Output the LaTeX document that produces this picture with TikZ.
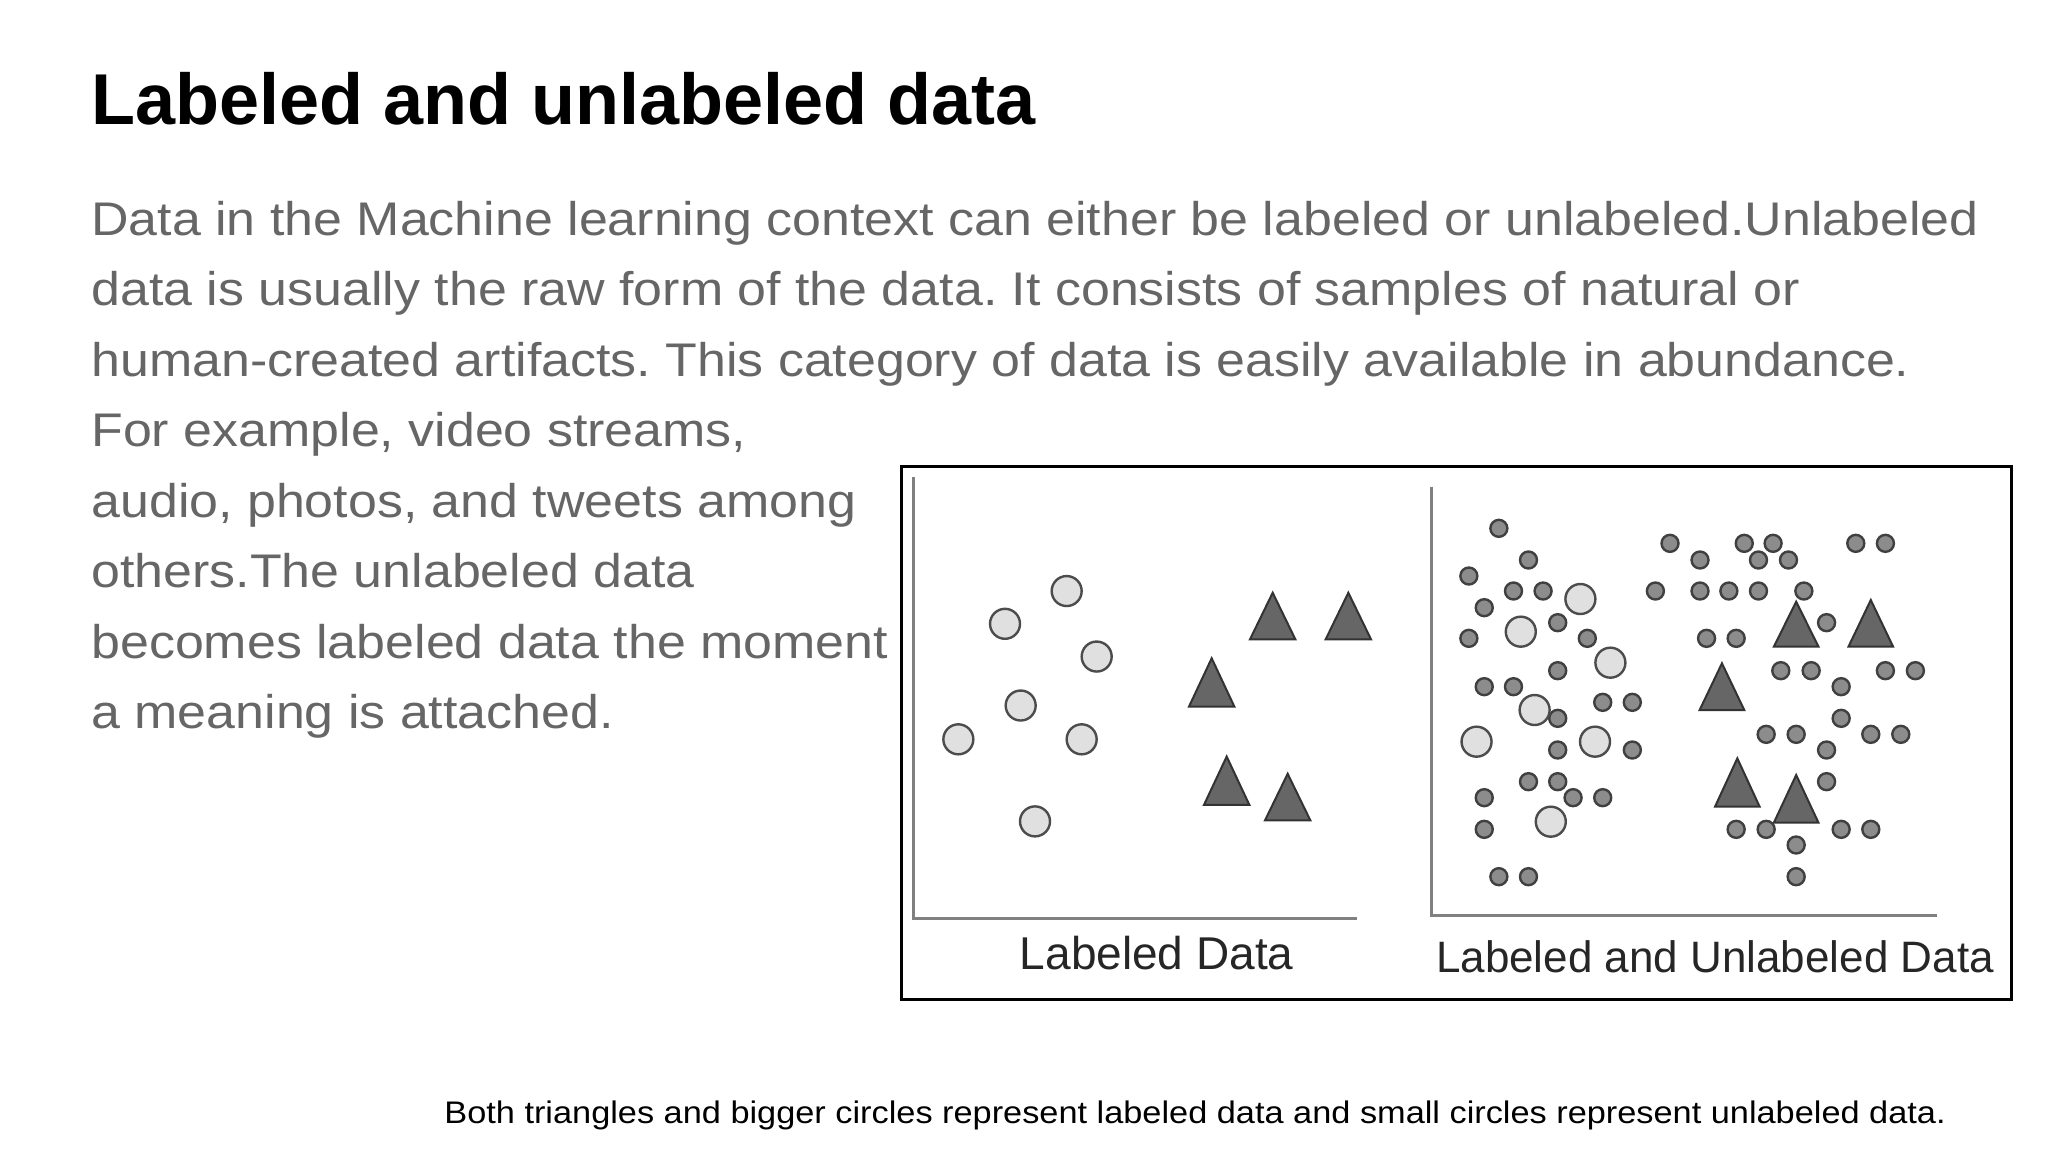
\documentclass[tikz,border=0pt]{standalone}
\usepackage{fontspec}
\setmainfont{Liberation Sans}
\newfontfamily\widefont[FakeStretch=1.1]{Liberation Sans}
\frenchspacing
\begin{document}
\begin{tikzpicture}[x=0.5pt,y=-0.5pt,
  body/.style={anchor=base west,inner sep=0pt,text=bodygray,font=\widefont\fontsize{23.6}{28}\selectfont},
  bigc/.style={circle,draw=black!70,fill=black!12,line width=1.2pt,minimum size=15pt,inner sep=0pt},
  smallc/.style={circle,draw=black!75,fill=black!45,line width=1.2pt,minimum size=8.5pt,inner sep=0pt},
  tri/.style={draw=black!80,fill=black!60,line width=1pt,line join=miter},
  axis/.style={draw=black!50,line width=1.5pt},
  plabel/.style={font=\fontsize{23}{28}\selectfont,text=black!85,inner sep=0pt}]
\definecolor{bodygray}{HTML}{666666}
\useasboundingbox (0,0) rectangle (2048,1152);
\fill[white] (0,0) rectangle (2048,1152);
\node[anchor=base west,inner sep=0pt,font=\fontsize{36}{43}\selectfont\bfseries] (title) at (91,124) {Labeled and unlabeled data};
\node[body] (l1) at (91,235) {Data in the Machine learning context can either be labeled or unlabeled.Unlabeled};
\node[body] (l2) at (91,305.5) {data is usually the raw form of the data. It consists of samples of natural or};
\node[body] (l3) at (91,376) {human-created artifacts. This category of data is easily available in abundance.};
\node[body] (l4) at (91,446.5) {For example, video streams,};
\node[body] (l5) at (91,517) {audio, photos, and tweets among};
\node[body] (l6) at (91,587.5) {others.The unlabeled data};
\node[body] (l7) at (91,658) {becomes labeled data the moment};
\node[body] (l8) at (91,728.5) {a meaning is attached.};
\node[anchor=base west,inner sep=0pt,font=\widefont\fontsize{15.6}{18}\selectfont] (cap) at (444,1123) {Both triangles and bigger circles represent labeled data and small circles represent unlabeled data.};
\draw[line width=1.5pt,black] (901,466) rectangle (2011,999);
% left panel
\begin{scope}[shift={(900,460)},xscale=1/3,yscale=1/2.9]
\draw[axis] (40,50) -- (40,1330) -- (1370,1330);
\foreach \x/\y in {500/380,315/475,590/570,362/712,175/810,545/810,405/1048}
  \node[bigc] at (\x,\y) {};
\foreach \x/\ya/\yb in {1118/385/520,1345/385/520,935/575/715,980/860/1000,1163/910/1045}
  \draw[tri] (\x,\ya) -- (\x-68,\yb) -- (\x+68,\yb) -- cycle;
\node[plabel] (ll) at (770,1430) {Labeled Data};
\end{scope}
% right panel
\begin{scope}[shift={(1420,480)},xscale=1/2.6,yscale=1/3]
\draw[axis] (30,20) -- (30,1307) -- (1345,1307);
\foreach \x/\y in {205/145,650/190,843/190,918/190,1133/190,1210/190,
282/240,728/240,880/240,958/240,127/288,
243/333,320/333,612/333,728/333,803/333,880/333,998/333,167/383,
358/428,1057/428,127/475,435/475,745/475,822/475,
358/572,938/572,1017/572,1210/572,1288/572,167/620,243/620,1095/620,
475/667,552/667,358/715,1095/715,900/763,978/763,1172/763,1250/763,
358/810,552/810,1057/810,282/905,358/905,1057/905,167/953,398/953,475/953,
167/1048,822/1048,900/1048,1095/1048,1172/1048,978/1095,205/1190,282/1190,978/1190}
  \node[smallc] at (\x,\y) {};
\foreach \x/\y in {417/357,262/455,495/548,298/690,147/785,455/785,340/1025}
  \node[bigc] at (\x,\y) {};
\foreach \x/\ya/\yb in {978/365/500,1172/360/500,785/550/690,825/835/980,978/885/1028}
  \draw[tri] (\x,\ya) -- (\x-58,\yb) -- (\x+58,\yb) -- cycle;
\end{scope}
\node[plabel,font=\fontsize{22}{26}\selectfont] (rl) at (1715,957) {Labeled and Unlabeled Data};
\end{tikzpicture}
\end{document}
